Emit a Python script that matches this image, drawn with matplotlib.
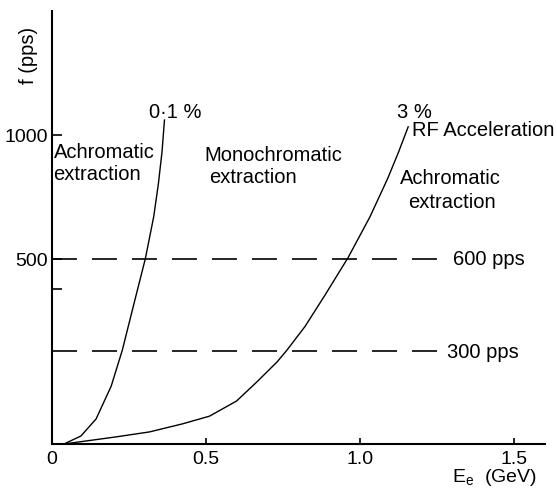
import numpy as np
import matplotlib
matplotlib.use('Agg')
import matplotlib.pyplot as plt

plt.rcParams['font.family'] = ['Liberation Sans', 'DejaVu Sans']
plt.rcParams['mathtext.default'] = 'regular'

# curves: E_e (GeV) vs f (pps)
e_01 = [0.039, 0.094, 0.143, 0.192, 0.228, 0.267, 0.303, 0.330, 0.345, 0.357, 0.365]
f_01 = [0, 26, 81, 187, 303, 458, 600, 735, 840, 945, 1048]

e_3 = [0.039, 0.208, 0.316, 0.423, 0.511, 0.599, 0.664, 0.730, 0.762, 0.821,
       0.885, 0.961, 1.032, 1.090, 1.125, 1.156]
f_3 = [0, 23, 39, 65, 90, 139, 200, 265, 303, 380,
       480, 603, 735, 860, 945, 1026]

rep_rates = [600, 300]
rep_ends = [1.270, 1.251]
rep_labels = ['600 pps', '300 pps']

x_ticks = [0, 0.5, 1.0, 1.5]
x_ticklabels = ['0', '0.5', '1.0', '1.5']
y_ticks = [500, 600, 1000]
y_ticklabels = ['', '500', '1000']

fig = plt.figure(figsize=(5.57, 4.89), dpi=100)
ax = fig.add_axes([0.0934, 0.09, 0.885, 0.885])

ax.plot(e_01, f_01, color='black', lw=1.0)
ax.plot(e_3, f_3, color='black', lw=1.0)

fs = 14.5
for rate, end, lab in zip(rep_rates, rep_ends, rep_labels):
    ax.plot([0, end], [rate, rate], color='black', lw=1.2, dashes=(15, 9))
    ax.text(end + 0.03, rate, lab, fontsize=fs, va='center', ha='left')

ax.text(0.316, 1074, '0·1 %', fontsize=fs, va='center')
ax.text(1.12, 1074, '3 %', fontsize=fs, va='center')
ax.text(0.005, 945, 'Achromatic', fontsize=fs, va='center')
ax.text(0.005, 874, 'extraction', fontsize=fs, va='center')
ax.text(0.495, 935, 'Monochromatic', fontsize=fs, va='center')
ax.text(0.511, 865, 'extraction', fontsize=fs, va='center')
ax.text(1.169, 1016, 'RF Acceleration', fontsize=fs, va='center', clip_on=False)
ax.text(1.130, 861, 'Achromatic', fontsize=fs, va='center')
ax.text(1.156, 784, 'extraction', fontsize=fs, va='center')

ax.set_xlim(0, 1.60)
ax.set_ylim(0, 1400)
ax.set_xticks(x_ticks)
ax.set_xticklabels(x_ticklabels, fontsize=14)
ax.set_yticks(y_ticks)
ax.set_yticklabels(y_ticklabels, fontsize=14)
ax.tick_params(axis='x', direction='in', length=4, width=1.2, pad=4)
ax.tick_params(axis='y', direction='in', length=7, width=1.2, pad=3)

for s in ['top', 'right']:
    ax.spines[s].set_visible(False)
for s in ['left', 'bottom']:
    ax.spines[s].set_linewidth(1.5)

fig.text(29 / 557, 1 - 55 / 489, 'f (pps)', rotation=90, fontsize=fs,
         ha='center', va='center')
fig.text(452 / 557, 1 - 478 / 489, 'E$_{e}$  (GeV)', fontsize=14,
         ha='left', va='center')

fig.savefig('out.png', dpi=100)
